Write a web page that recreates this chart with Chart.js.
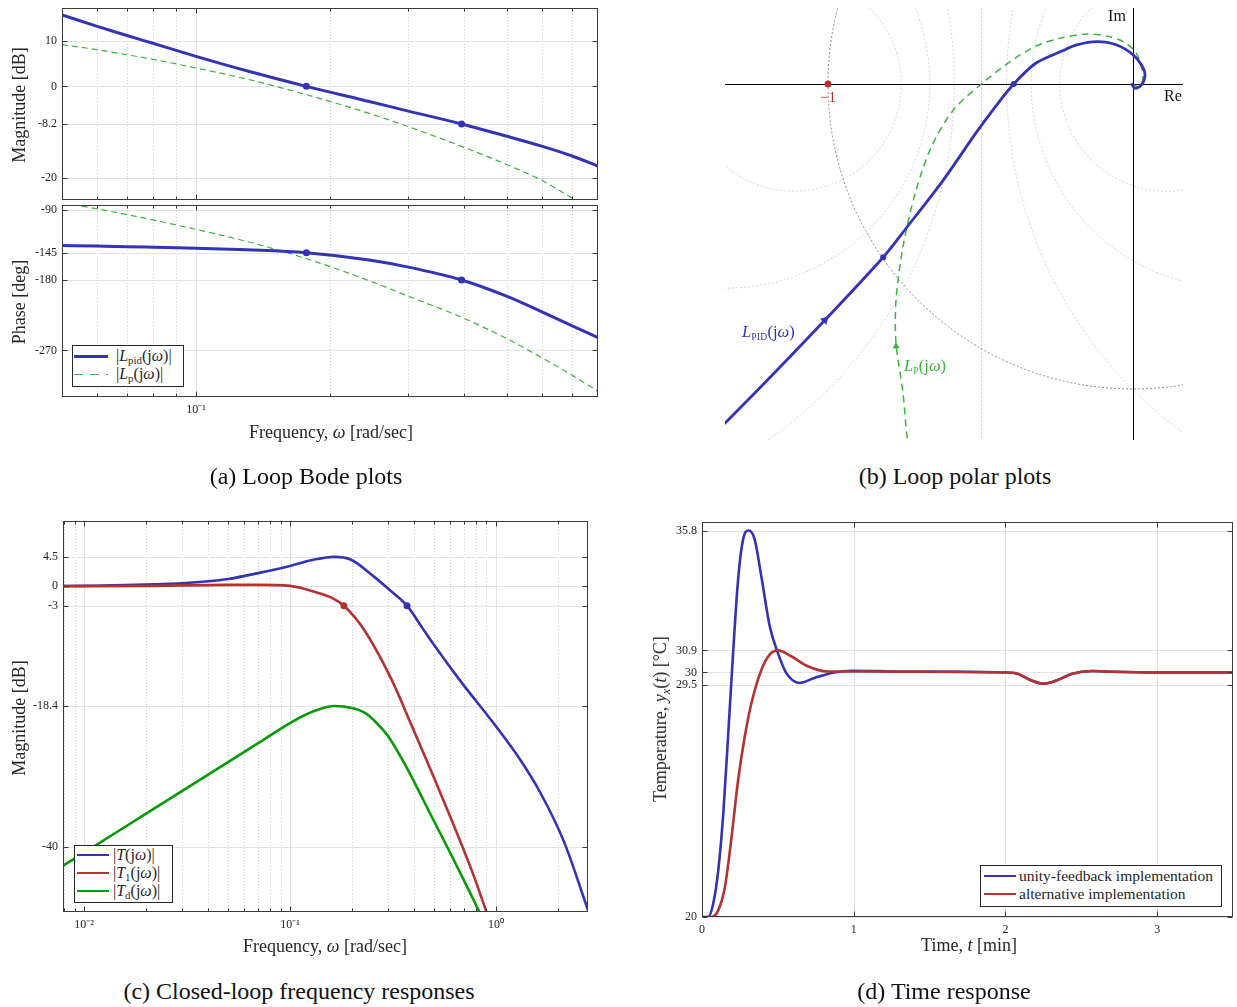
<!DOCTYPE html>
<html>
<head>
<meta charset="utf-8">
<title>PID loop analysis</title>
<script src="https://cdn.jsdelivr.net/npm/chart.js@4.4.1/dist/chart.umd.min.js"></script>
<style>
  html, body { margin: 0; padding: 0; background: #fff; }
  #page { position: relative; width: 1237px; height: 1007px; overflow: hidden;
          font-family: 'Liberation Serif', 'Times New Roman', serif; color: #262626; }
  #page canvas { position: absolute; }
  .lbl { position: absolute; white-space: nowrap; line-height: 1; transform: translate(-50%, -50%); }
  .ylab { transform: translate(-50%, -50%) rotate(-90deg); }
  .ax { font-size: 18px; }
  .cap { font-size: 24px; color: #111; }
  .sub { font-size: 0.68em; position: relative; top: 0.3em; }
  .sc { font-size: 0.58em; position: relative; top: 0.3em; letter-spacing: 0.03em; }
  .legend { position: absolute; box-sizing: border-box; border: 1px solid #262626; background: #fff; }
</style>
</head>
<body>
<div id="page">
  <canvas id="bodeMag" width="610" height="205" style="left:0;top:0"></canvas>
  <canvas id="bodePhase" width="610" height="250" style="left:0;top:200px"></canvas>
  <canvas id="polar" width="627" height="450" style="left:610px;top:0"></canvas>
  <canvas id="closedLoop" width="610" height="460" style="left:0;top:510px"></canvas>
  <canvas id="timeResp" width="617" height="460" style="left:620px;top:510px"></canvas>
  <div id="labels"></div>
</div>
<script>
// ---- (a) loop Bode plots ----
var bodeFreq   = [0.05, 0.06, 0.07, 0.08, 0.1, 0.13, 0.177, 0.245, 0.3, 0.395, 0.5, 0.6, 0.7, 0.8];
var bodeMagPid = [15.6, 13.1, 11.1, 9.4, 6.55, 3.4, 0.0, -3.3, -5.4, -8.2, -10.9, -13.1, -15.2, -17.4];
var bodeMagP   = [9.1, 8.0, 6.9, 5.9, 4.0, 1.6, -1.8, -5.9, -8.8, -13.1, -17.1, -20.6, -24.4, -27.8];
var bodePhPid  = [-135.8, -136.6, -137.3, -138.0, -139.2, -141.3, -145.0, -154.3, -163.5, -180.0, -201.0, -221.0, -238.5, -253.7];
var bodePhP    = [-81.0, -88.9, -96.3, -103.1, -115.2, -130.6, -152.7, -180.9, -200.7, -227.6, -255.2, -279.7, -301.8, -322.1];
var bodeMarkFreq  = [0.177, 0.395];
var bodeMarkMag   = [0, -8.2];
var bodeMarkPhase = [-145, -180];
var bodeMagTicks   = [-20, -8.2, 0, 10];
var bodePhaseTicks = [-270, -180, -145, -90];
var bodeFreqTicks  = [0.1];
var bodeFreqLabels = ['10⁻¹'];

// ---- (b) loop polar plots ----
var nyqPidRe = [-1.40, -1.333, -1.188, -1.010, -0.819, -0.740, -0.622, -0.516, -0.451, -0.391, -0.319, -0.233, -0.185, -0.119, -0.053, 0.001, 0.034, 0.039, 0.028, 0.007, -0.006];
var nyqPidIm = [-1.17, -1.107, -0.960, -0.774, -0.568, -0.468, -0.315, -0.162, -0.074, 0.0, 0.068, 0.108, 0.128, 0.139, 0.128, 0.095, 0.051, 0.024, -0.003, -0.014, 0.002];
var nyqPRe = [-0.732, -0.742, -0.754, -0.777, -0.777, -0.754, -0.714, -0.661, -0.589, -0.497, -0.405, -0.319, -0.239, -0.152, -0.086, -0.032, 0.007, 0.028, 0.032, 0.017, 0.003];
var nyqPIm = [-1.20, -1.145, -1.014, -0.850, -0.708, -0.533, -0.358, -0.206, -0.085, 0.0, 0.072, 0.124, 0.150, 0.164, 0.157, 0.139, 0.106, 0.057, 0.013, -0.009, -0.003];
var nyqPidMarkRe = [-0.819, -0.391];
var nyqPidMarkIm = [-0.568, 0.0];
var nyqPidArrowRe = [-1.010], nyqPidArrowIm = [-0.774];
var nyqPArrowRe = [-0.777], nyqPArrowIm = [-0.86];
var criticalRe = [-1], criticalIm = [0];
var closedLoopDb = [-10, -6, -3, 3, 6, 10];   // |T| contours drawn as circles

// ---- (c) closed-loop frequency responses ----
var clFreqT  = [0.0079, 0.01, 0.02, 0.03, 0.05, 0.07, 0.1, 0.13, 0.163, 0.197, 0.255, 0.3, 0.37, 0.439, 0.5, 0.663, 1.0, 1.31, 1.644, 2.14, 2.8];
var clMagT   = [0.0, 0.05, 0.25, 0.45, 1.1, 2.0, 3.1, 4.05, 4.5, 4.1, 1.5, -0.4, -3.0, -6.4, -9.0, -14.3, -21.5, -26.6, -31.7, -39.2, -49.7];
var clFreqT1 = [0.0079, 0.02, 0.05, 0.07, 0.1, 0.1357, 0.163, 0.1827, 0.228, 0.311, 0.39, 0.49, 0.615, 0.771, 0.9];
var clMagT1  = [0.0, 0.05, 0.2, 0.2, 0.05, -1.0, -1.95, -3.0, -6.6, -14.3, -21.4, -28.7, -36.2, -44.0, -50.0];
var clFreqTd = [0.0079, 0.01, 0.02, 0.03, 0.05, 0.07, 0.1, 0.13, 0.165, 0.2, 0.23, 0.26, 0.299, 0.345, 0.39, 0.49, 0.615, 0.832];
var clMagTd  = [-42.9, -40.9, -34.9, -31.4, -27.0, -24.1, -21.0, -19.2, -18.4, -18.7, -19.4, -20.8, -23.0, -26.2, -29.3, -35.5, -41.6, -50.0];
var clMarkFreqT = [0.37], clMarkMagT = [-3];
var clMarkFreqT1 = [0.1827], clMarkMagT1 = [-3];
var clMagTicks = [-40, -18.4, -3, 0, 4.5];
var clFreqTicks = [0.01, 0.1, 1];
var clFreqLabels = ['10⁻²', '10⁻¹', '10⁰'];

// ---- (d) time response ----
var timeUF = [0, 0.041, 0.074, 0.107, 0.14, 0.172, 0.205, 0.238, 0.271, 0.308, 0.347, 0.391, 0.446, 0.5, 0.555, 0.642, 0.74, 0.87, 0.99, 1.3, 2.0, 2.08, 2.16, 2.25, 2.34, 2.44, 2.57, 2.7, 3.0, 3.5];
var tempUF = [20, 20.0, 20.55, 21.9, 24.2, 27.4, 30.8, 33.8, 35.44, 35.8, 35.44, 33.93, 31.9, 30.8, 29.98, 29.57, 29.77, 30.0, 30.07, 30.04, 30.0, 29.95, 29.7, 29.54, 29.68, 29.95, 30.06, 30.03, 30.0, 30.0];
var timeAlt = [0, 0.063, 0.107, 0.151, 0.195, 0.238, 0.282, 0.326, 0.391, 0.446, 0.5, 0.588, 0.697, 0.828, 1.0, 1.3, 2.0, 2.08, 2.16, 2.25, 2.34, 2.44, 2.57, 2.7, 3.0, 3.5];
var tempAlt = [20, 20.0, 20.27, 21.23, 23.28, 25.6, 27.38, 28.75, 30.1, 30.73, 30.9, 30.66, 30.25, 30.04, 30.04, 30.03, 30.0, 29.95, 29.7, 29.54, 29.68, 29.95, 30.06, 30.03, 30.0, 30.0];
var timeTicks = [0, 1, 2, 3];
var tempTicks = [20, 29.5, 30, 30.9, 35.8];

var BLUE = '#3333b3', RED = '#b33333', GREEN = '#089a08', LGREEN = '#3cb43c';

Chart.defaults.animation = false;
Chart.defaults.responsive = false;
Chart.defaults.events = [];
Chart.defaults.font.family = "'Liberation Serif', 'Times New Roman', serif";
Chart.defaults.font.size = 12;
Chart.defaults.color = '#262626';
Chart.defaults.plugins.legend.display = false;
Chart.defaults.plugins.tooltip.enabled = false;

function pts(xs, ys) {
  return xs.map(function (x, i) { return { x: x, y: ys[i] }; });
}
function lineSet(xs, ys, color, width, dash) {
  return { data: pts(xs, ys), showLine: true, borderColor: color, borderWidth: width,
           borderDash: dash || [], pointRadius: 0, cubicInterpolationMode: 'monotone', fill: false };
}
function markSet(xs, ys, color, r) {
  return { data: pts(xs, ys), showLine: false, pointRadius: r || 3.5,
           pointBackgroundColor: color, pointBorderColor: color, pointBorderWidth: 0 };
}
function logMinors(min, max) {
  var out = [];
  for (var e = Math.floor(Math.log10(min)); e <= Math.ceil(Math.log10(max)); e++) {
    for (var k = 2; k <= 9; k++) {
      var v = k * Math.pow(10, e);
      if (v > min * 1.001 && v < max * 0.999) out.push(v);
    }
  }
  return out;
}
function fixAxis(size, horizontal) {
  return function (s) {
    if (horizontal) s.height = size; else s.width = size;
    s.paddingTop = s.paddingBottom = s.paddingLeft = s.paddingRight = 0;
  };
}
function setTicks(values) {
  return function (s) { s.ticks = values.map(function (v) { return { value: v }; }); };
}
function seg(ctx, x1, y1, x2, y2) {
  ctx.beginPath(); ctx.moveTo(x1, y1); ctx.lineTo(x2, y2); ctx.stroke();
}

// matlab style box, grid and inward ticks
var boxGrid = {
  id: 'boxGrid',
  beforeDatasetsDraw: function (chart, args, o) {
    var ctx = chart.ctx, a = chart.chartArea, xs = chart.scales.x, ys = chart.scales.y;
    ctx.save();
    ctx.lineWidth = 1;
    ctx.strokeStyle = '#d0d0d0';
    ctx.setLineDash([1, 2]);
    (o.xMinor || []).forEach(function (v) {
      var p = Math.round(xs.getPixelForValue(v)) + 0.5;
      seg(ctx, p, a.top, p, a.bottom);
    });
    ctx.setLineDash([]);
    ctx.strokeStyle = '#e4e4e4';
    (o.xMajor || []).forEach(function (v) {
      var p = Math.round(xs.getPixelForValue(v)) + 0.5;
      seg(ctx, p, a.top, p, a.bottom);
    });
    (o.yMajor || []).forEach(function (v) {
      var p = Math.round(ys.getPixelForValue(v)) + 0.5;
      seg(ctx, a.left, p, a.right, p);
    });
    ctx.restore();
  },
  afterDatasetsDraw: function (chart, args, o) {
    var ctx = chart.ctx, a = chart.chartArea, xs = chart.scales.x, ys = chart.scales.y;
    var L = Math.round(a.left) + 0.5, R = Math.round(a.right) - 0.5;
    var T = Math.round(a.top) + 0.5, B = Math.round(a.bottom) - 0.5;
    ctx.save();
    ctx.strokeStyle = '#3a3a3a';
    ctx.lineWidth = 1;
    ctx.strokeRect(L, T, R - L, B - T);
    function xt(v, len) {
      var p = Math.round(xs.getPixelForValue(v)) + 0.5;
      seg(ctx, p, B, p, B - len); seg(ctx, p, T, p, T + len);
    }
    function yt(v, len) {
      var p = Math.round(ys.getPixelForValue(v)) + 0.5;
      seg(ctx, L, p, L + len, p); seg(ctx, R, p, R - len, p);
    }
    (o.xMajor || []).forEach(function (v) { xt(v, 5); });
    (o.xMinor || []).forEach(function (v) { xt(v, 3); });
    (o.yMajor || []).forEach(function (v) { yt(v, 5); });
    ctx.restore();
  }
};

function yAxis(min, max, ticks, width) {
  return { min: min, max: max, afterBuildTicks: setTicks(ticks), afterFit: fixAxis(width),
           grid: { display: false, drawTicks: false }, border: { display: false },
           ticks: { padding: 5, autoSkip: false, callback: function (v) { return String(v); } } };
}
function xAxis(type, min, max, ticks, labels, height) {
  return { type: type, min: min, max: max, afterBuildTicks: setTicks(ticks), afterFit: fixAxis(height, true),
           grid: { display: false, drawTicks: false }, border: { display: false },
           ticks: { padding: 6, autoSkip: false, maxRotation: 0,
                    callback: function (v, i) { return labels ? labels[i] : String(v); } } };
}

// (a) magnitude
new Chart(document.getElementById('bodeMag'), {
  type: 'scatter',
  data: { datasets: [
    markSet(bodeMarkFreq, bodeMarkMag, BLUE),
    lineSet(bodeFreq, bodeMagPid, BLUE, 3),
    lineSet(bodeFreq, bodeMagP, LGREEN, 1.2, [6, 4])
  ] },
  options: {
    layout: { padding: { left: 0, top: 8, right: 12, bottom: 5 } },
    scales: {
      x: { type: 'logarithmic', min: 0.05, max: 0.8, display: false },
      y: yAxis(-24.8, 17.1, bodeMagTicks, 62)
    },
    plugins: { boxGrid: { xMajor: bodeFreqTicks, xMinor: logMinors(0.05, 0.8), yMajor: bodeMagTicks } }
  },
  plugins: [boxGrid]
});

// (a) phase
new Chart(document.getElementById('bodePhase'), {
  type: 'scatter',
  data: { datasets: [
    markSet(bodeMarkFreq, bodeMarkPhase, BLUE),
    lineSet(bodeFreq, bodePhPid, BLUE, 3),
    lineSet(bodeFreq, bodePhP, LGREEN, 1.2, [6, 4])
  ] },
  options: {
    layout: { padding: { left: 0, top: 5, right: 12, bottom: 0 } },
    scales: {
      x: xAxis('logarithmic', 0.05, 0.8, bodeFreqTicks, bodeFreqLabels, 53),
      y: yAxis(-329.6, -84, bodePhaseTicks, 62)
    },
    plugins: { boxGrid: { xMajor: bodeFreqTicks, xMinor: logMinors(0.05, 0.8), yMajor: bodePhaseTicks } }
  },
  plugins: [boxGrid]
});

// (b) polar plot: grid circles and Re/Im axes
var nyqGrid = {
  id: 'nyqGrid',
  beforeDatasetsDraw: function (chart) {
    var ctx = chart.ctx, a = chart.chartArea, xs = chart.scales.x, ys = chart.scales.y;
    var x0 = xs.getPixelForValue(0), y0 = ys.getPixelForValue(0);
    var unit = xs.getPixelForValue(1) - x0;
    ctx.save();
    ctx.beginPath(); ctx.rect(a.left, a.top, a.width, a.height); ctx.clip();
    ctx.lineWidth = 1;
    ctx.setLineDash([2, 2]);
    ctx.strokeStyle = '#d4d4d4';
    closedLoopDb.forEach(function (db) {
      var m2 = Math.pow(10, db / 10);
      var c = -m2 / (m2 - 1), r = Math.abs(Math.sqrt(m2) / (m2 - 1));
      ctx.beginPath(); ctx.arc(xs.getPixelForValue(c), y0, r * unit, 0, 2 * Math.PI); ctx.stroke();
    });
    var xh = Math.round(xs.getPixelForValue(-0.5)) + 0.5;
    seg(ctx, xh, a.top, xh, a.bottom);
    ctx.strokeStyle = '#8a8a8a';
    ctx.beginPath(); ctx.arc(x0, y0, unit, 0, 2 * Math.PI); ctx.stroke();
    ctx.setLineDash([]);
    ctx.strokeStyle = '#000';
    seg(ctx, a.left, Math.round(y0) + 0.5, a.right, Math.round(y0) + 0.5);
    seg(ctx, Math.round(x0) + 0.5, a.top, Math.round(x0) + 0.5, a.bottom);
    ctx.restore();
  }
};

var pidCurve = lineSet(nyqPidRe, nyqPidIm, BLUE, 2.8);
pidCurve.cubicInterpolationMode = 'default'; pidCurve.tension = 0.3;
var pCurve = lineSet(nyqPRe, nyqPIm, LGREEN, 1.5, [7, 5]);
pCurve.cubicInterpolationMode = 'default'; pCurve.tension = 0.3;
var pidArrow = markSet(nyqPidArrowRe, nyqPidArrowIm, BLUE, 5);
pidArrow.pointStyle = 'triangle'; pidArrow.rotation = 44;
var pArrow = markSet(nyqPArrowRe, nyqPArrowIm, LGREEN, 4);
pArrow.pointStyle = 'triangle'; pArrow.rotation = -3;

new Chart(document.getElementById('polar'), {
  type: 'scatter',
  data: { datasets: [
    markSet(criticalRe, criticalIm, '#b83030', 3.5),
    markSet(nyqPidMarkRe, nyqPidMarkIm, BLUE, 3),
    pidArrow, pArrow, pidCurve, pCurve
  ] },
  options: {
    layout: { padding: { left: 115, top: 8, right: 54, bottom: 10 } },
    scales: {
      x: { type: 'linear', min: -1.3377, max: 0.1639, display: false },
      y: { type: 'linear', min: -1.1672, max: 0.2492, display: false }
    }
  },
  plugins: [nyqGrid]
});

// (c) closed-loop magnitude
new Chart(document.getElementById('closedLoop'), {
  type: 'scatter',
  data: { datasets: [
    markSet(clMarkFreqT1, clMarkMagT1, RED),
    markSet(clMarkFreqT, clMarkMagT, BLUE),
    lineSet(clFreqT1, clMagT1, RED, 2.6),
    lineSet(clFreqT, clMagT, BLUE, 2.6),
    lineSet(clFreqTd, clMagTd, GREEN, 2.6)
  ] },
  options: {
    layout: { padding: { left: 0, top: 11, right: 22, bottom: 0 } },
    scales: {
      x: xAxis('logarithmic', 0.0079, 2.8, clFreqTicks, clFreqLabels, 58),
      y: yAxis(-50, 10, clMagTicks, 63)
    },
    plugins: { boxGrid: { xMajor: clFreqTicks, xMinor: logMinors(0.0079, 2.8), yMajor: clMagTicks } }
  },
  plugins: [boxGrid]
});

// (d) time response
new Chart(document.getElementById('timeResp'), {
  type: 'scatter',
  data: { datasets: [
    lineSet(timeAlt, tempAlt, RED, 2.6),
    lineSet(timeUF, tempUF, BLUE, 2.6)
  ] },
  options: {
    layout: { padding: { left: 0, top: 12, right: 4, bottom: 0 } },
    scales: {
      x: xAxis('linear', 0, 3.5, timeTicks, null, 53),
      y: yAxis(20, 36.15, tempTicks, 82)
    },
    plugins: { boxGrid: { xMajor: timeTicks, yMajor: tempTicks } }
  },
  plugins: [boxGrid]
});

// ---- texts, legends, captions ----
function txt(x, y, html, cls, style) {
  return '<div class="lbl ' + (cls || '') + '" style="left:' + x + 'px;top:' + y + 'px;' + (style || '') + '">' + html + '</div>';
}
function legend(box, rows) {
  var html = '<div class="legend" style="left:' + box[0] + 'px;top:' + box[1] + 'px;width:' + box[2] + 'px;height:' + box[3] + 'px"></div>';
  rows.forEach(function (r) {
    var bg = r.dash ? 'repeating-linear-gradient(to right,' + r.color + ' 0 9px,transparent 9px 16px)' : r.color;
    html += '<div style="position:absolute;left:' + r.x1 + 'px;top:' + (r.y - r.w / 2) + 'px;width:' + (r.x2 - r.x1) + 'px;height:' + r.w + 'px;background:' + bg + '"></div>';
    html += txt(r.tx, r.y, r.html, '', 'transform:translate(0,-50%);font-size:' + (r.size || 16) + 'px');
  });
  return html;
}

var W = '<i>ω</i>';
var html = '';
html += txt(19, 105, 'Magnitude [dB]', 'ax ylab');
html += txt(19, 302, 'Phase [deg]', 'ax ylab');
html += txt(331, 432, 'Frequency, ' + W + ' [rad/sec]', 'ax');
html += txt(19, 718, 'Magnitude [dB]', 'ax ylab');
html += txt(325, 946, 'Frequency, ' + W + ' [rad/sec]', 'ax');
html += txt(660, 719, 'Temperature, <i>y</i><span class="sub"><i>x</i></span>(<i>t</i>) [°C]', 'ax ylab');
html += txt(969, 945, 'Time, <i>t</i> [min]', 'ax');

html += txt(1117, 16, 'Im', '', 'font-size:16px;color:#111');
html += txt(1173, 96, 'Re', '', 'font-size:16px;color:#111');
html += txt(828, 97, '−1', '', 'font-size:15px;color:#b83030');
html += txt(742, 332, '<i>L</i><span class="sc">PID</span>(j' + W + ')', '', 'transform:translate(0,-50%);font-size:16.5px;color:' + BLUE);
html += txt(904, 366, '<i>L</i><span class="sc">P</span>(j' + W + ')', '', 'transform:translate(0,-50%);font-size:16.5px;color:' + LGREEN);

html += legend([72, 345, 112, 42], [
  { y: 356, x1: 74, x2: 108, w: 3, color: BLUE, tx: 116, html: '|<i>L</i><span class="sub">pid</span>(j' + W + ')|' },
  { y: 374, x1: 74, x2: 108, w: 1, color: LGREEN, dash: true, tx: 116, html: '|<i>L</i><span class="sub">p</span>(j' + W + ')|' }
]);
html += legend([74, 845, 99, 58], [
  { y: 855, x1: 77, x2: 109, w: 2.6, color: BLUE, tx: 113, html: '|<i>T</i>(j' + W + ')|' },
  { y: 873, x1: 77, x2: 109, w: 2.6, color: RED, tx: 113, html: '|<i>T</i><span class="sub">1</span>(j' + W + ')|' },
  { y: 891, x1: 77, x2: 109, w: 2.6, color: GREEN, tx: 113, html: '|<i>T</i><span class="sub">d</span>(j' + W + ')|' }
]);
html += legend([980, 865, 242, 42], [
  { y: 876, x1: 984, x2: 1016, w: 2.6, color: BLUE, tx: 1019, size: 15.5, html: 'unity-feedback implementation' },
  { y: 894, x1: 984, x2: 1016, w: 2.6, color: RED, tx: 1019, size: 15.5, html: 'alternative implementation' }
]);

html += txt(306, 476, '(a) Loop Bode plots', 'cap');
html += txt(955, 476, '(b) Loop polar plots', 'cap');
html += txt(299, 991, '(c) Closed-loop frequency responses', 'cap');
html += txt(944, 991, '(d) Time response', 'cap');
document.getElementById('labels').innerHTML = html;
</script>
</body>
</html>
